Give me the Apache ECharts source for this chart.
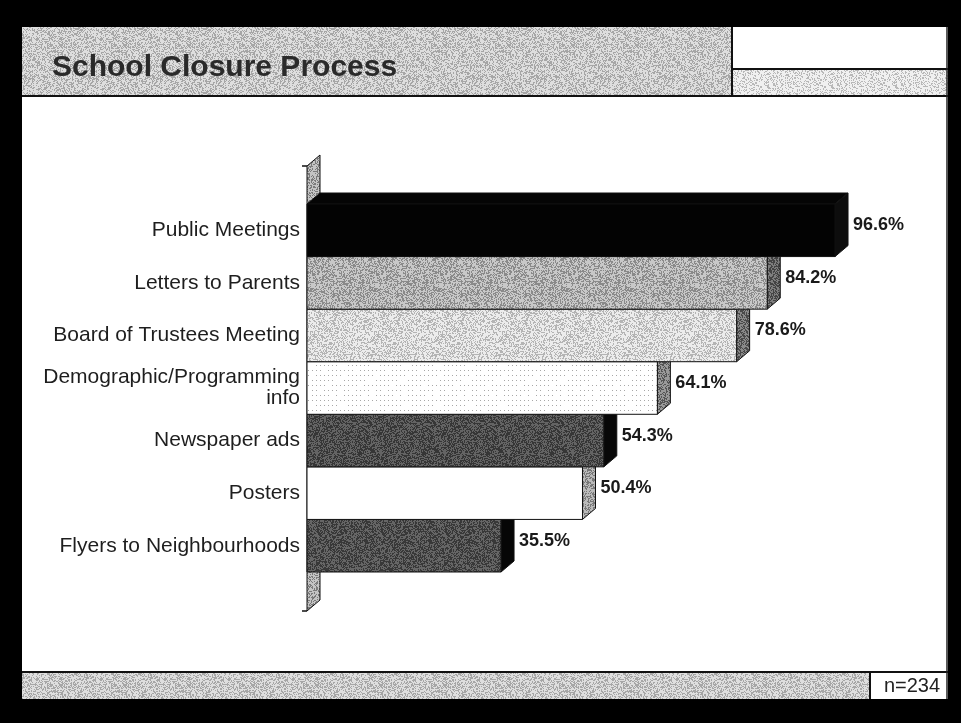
<!DOCTYPE html>
<html>
<head>
<meta charset="utf-8">
<script src="https://cdn.jsdelivr.net/npm/echarts@6/dist/echarts.min.js"></script>
<style>
  html, body { margin: 0; padding: 0; background: #000; }
  #chart { width: 961px; height: 723px; }
</style>
</head>
<body>
<div id="chart"></div>
<script>
// ---- data ----
const categories = [
  'Public Meetings',
  'Letters to Parents',
  'Board of Trustees Meeting',
  'Demographic/Programming\ninfo',
  'Newspaper ads',
  'Posters',
  'Flyers to Neighbourhoods'
];
const percentages = [96.6, 84.2, 78.6, 64.1, 54.3, 50.4, 35.5];
const titleText = 'School Closure Process';
const sampleNote = 'n=234';

// ---- print-style halftone textures (deterministic dither) ----
function hash(x, y, s) {
  let h = (x * 374761393 + y * 668265263 + s * 982451653) | 0;
  h = Math.imul(h ^ (h >>> 13), 1274126177);
  h = h ^ (h >>> 16);
  return (h >>> 0) / 4294967296;
}
function texture(light, dark, frac, seed) {
  const n = 64;
  const c = document.createElement('canvas');
  c.width = n; c.height = n;
  const ctx = c.getContext('2d');
  ctx.fillStyle = light; ctx.fillRect(0, 0, n, n);
  ctx.fillStyle = dark;
  for (let y = 0; y < n; y++) {
    for (let x = 0; x < n; x++) {
      if (hash(x, y, seed) < frac) ctx.fillRect(x, y, 1, 1);
    }
  }
  return { image: c, repeat: 'repeat' };
}
function dotGrid(light, dark, sx, sy) {
  const c = document.createElement('canvas');
  c.width = sx * 8; c.height = sy * 8;
  const ctx = c.getContext('2d');
  ctx.fillStyle = light; ctx.fillRect(0, 0, c.width, c.height);
  ctx.fillStyle = dark;
  for (let y = 0; y < c.height; y += sy) {
    for (let x = 0; x < c.width; x += sx) {
      if (hash(x, y, 7) < 0.8) ctx.fillRect(x, y, 1, 1);
    }
  }
  return { image: c, repeat: 'repeat' };
}

// face fills for each bar: front, side, top
const faceStyles = [
  { front: '#030303', side: '#0d0d0d', top: '#050505' },
  { front: texture('#c8c8c8', '#8a8a8a', 0.45, 1), side: texture('#7e7e7e', '#444444', 0.5, 2), top: '#a0a0a0' },
  { front: texture('#ececec', '#b4b4b4', 0.4, 3), side: texture('#8a8a8a', '#4a4a4a', 0.5, 4), top: '#d4d4d4' },
  { front: dotGrid('#ffffff', '#a8a8a8', 4, 5), side: texture('#9a9a9a', '#555555', 0.45, 5), top: '#eeeeee' },
  { front: texture('#646464', '#363636', 0.5, 6), side: '#080808', top: '#4e4e4e' },
  { front: '#ffffff', side: texture('#bababa', '#787878', 0.45, 8), top: '#ffffff' },
  { front: texture('#666666', '#383838', 0.5, 9), side: '#060606', top: '#505050' }
];
const wallFill = texture('#c4c4c4', '#7a7a7a', 0.4, 11);
const bandFill = texture('#dedede', '#a6a6a6', 0.4, 12);
const lightBandFill = texture('#f0f0f0', '#b8b8b8', 0.3, 13);

// oblique depth of the 3-D bars (pixels)
const DX = 13, DY = -11;
const FONT = 'Liberation Sans, Arial, Helvetica, sans-serif';

function renderBar(params, api) {
  const idx = api.value(0);
  const v = api.value(1);
  const base = api.coord([0, idx]);
  const tip = api.coord([v, idx]);
  const h = api.size([0, 1])[1];
  const x0 = base[0], x1 = tip[0];
  const yT = base[1] - h / 2, yB = base[1] + h / 2;
  const st = faceStyles[idx];
  const zb = (categories.length - idx) * 10;
  const edge = { stroke: '#111', lineWidth: 1 };
  return {
    type: 'group',
    children: [
      { type: 'polygon', z2: zb,
        shape: { points: [[x0, yT], [x0 + DX, yT + DY], [x1 + DX, yT + DY], [x1, yT]] },
        style: Object.assign({ fill: st.top }, edge) },
      { type: 'polygon', z2: zb + 1,
        shape: { points: [[x1, yT], [x1 + DX, yT + DY], [x1 + DX, yB + DY], [x1, yB]] },
        style: Object.assign({ fill: st.side }, edge) },
      { type: 'rect', z2: zb + 2,
        shape: { x: x0, y: yT, width: x1 - x0, height: yB - yT },
        style: Object.assign({ fill: st.front }, edge) },
      { type: 'text', z2: 200,
        style: { text: v.toFixed(1) + '%', x: x1 + 18, y: base[1] - 5,
          fill: '#1a1a1a', font: 'bold 18px ' + FONT, verticalAlign: 'middle', align: 'left' } }
    ]
  };
}

// back wall standing behind the category axis
function renderWall(params, api) {
  const cs = params.coordSys;
  const x = cs.x, top = cs.y - 38, bot = cs.y + cs.height + 39;
  return {
    type: 'group',
    children: [
      { type: 'polygon', z2: 1,
        shape: { points: [[x, top], [x + DX, top + DY], [x + DX, bot + DY], [x, bot]] },
        style: { fill: wallFill, stroke: '#111', lineWidth: 1 } },
      { type: 'line', z2: 2, shape: { x1: x - 5, y1: top, x2: x, y2: top },
        style: { stroke: '#111', lineWidth: 1.5 } },
      { type: 'line', z2: 2, shape: { x1: x - 5, y1: bot, x2: x, y2: bot },
        style: { stroke: '#111', lineWidth: 1.5 } }
    ]
  };
}

const chart = echarts.init(document.getElementById('chart'), null, { renderer: 'canvas' });

const PANEL = { l: 22, r: 948, t: 27, b: 699 };

chart.setOption({
  animation: false,
  backgroundColor: '#000',
  grid: { left: 307, right: 107.4, top: 204, bottom: 151 },
  xAxis: {
    type: 'value', min: 0, max: 100,
    show: false
  },
  yAxis: {
    type: 'category', inverse: true, data: categories,
    axisLine: { show: false }, axisTick: { show: false }, splitLine: { show: false },
    axisLabel: {
      margin: 7, fontSize: 21, lineHeight: 21, color: '#1e1e1e',
      fontFamily: FONT, align: 'right'
    }
  },
  graphic: [
    // slide panel
    { type: 'rect', z: -10, shape: { x: PANEL.l, y: PANEL.t, width: PANEL.r - PANEL.l, height: PANEL.b - PANEL.t },
      style: { fill: '#ffffff' } },
    // header band
    { type: 'rect', z: -9, shape: { x: PANEL.l, y: PANEL.t, width: 732 - PANEL.l, height: 69 },
      style: { fill: bandFill } },
    { type: 'rect', z: -9, shape: { x: 733, y: 69, width: PANEL.r - 733, height: 27 },
      style: { fill: lightBandFill } },
    { type: 'line', z: -8, shape: { x1: PANEL.l, y1: 96, x2: PANEL.r, y2: 96 }, style: { stroke: '#111', lineWidth: 2 } },
    { type: 'line', z: -8, shape: { x1: 732, y1: PANEL.t, x2: 732, y2: 96 }, style: { stroke: '#111', lineWidth: 2 } },
    { type: 'line', z: -8, shape: { x1: 732, y1: 69, x2: PANEL.r, y2: 69 }, style: { stroke: '#111', lineWidth: 2 } },
    { type: 'text', z: -7, style: { text: titleText, x: 52, y: 68, font: 'bold 30px ' + FONT,
      fill: '#2a2a2a', verticalAlign: 'middle', align: 'left' } },
    // footer band
    { type: 'rect', z: -9, shape: { x: PANEL.l, y: 673, width: 870 - PANEL.l, height: PANEL.b - 673 },
      style: { fill: bandFill } },
    { type: 'line', z: -8, shape: { x1: PANEL.l, y1: 672, x2: PANEL.r, y2: 672 }, style: { stroke: '#111', lineWidth: 2 } },
    { type: 'line', z: -8, shape: { x1: 870, y1: 672, x2: 870, y2: PANEL.b }, style: { stroke: '#111', lineWidth: 2 } },
    { type: 'line', z: -8, shape: { x1: PANEL.r - 1, y1: PANEL.t, x2: PANEL.r - 1, y2: PANEL.b }, style: { stroke: '#222', lineWidth: 1.5 } },
    { type: 'text', z: -7, style: { text: sampleNote, x: 912, y: 686, font: '20px ' + FONT,
      fill: '#222', verticalAlign: 'middle', align: 'center' } }
  ],
  series: [
    {
      type: 'custom', name: 'wall', renderItem: renderWall, data: [[0, 0]],
      encode: { y: 0, x: 1 }, silent: true, z: 1
    },
    {
      type: 'custom', name: 'share', renderItem: renderBar,
      data: percentages.map((v, i) => [i, v]),
      encode: { y: 0, x: 1 }, z: 2
    }
  ]
});
</script>
</body>
</html>
